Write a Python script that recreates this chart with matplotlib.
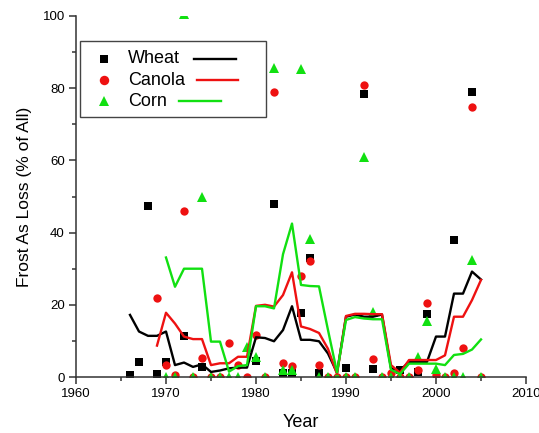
import numpy as np
import matplotlib
matplotlib.use("Agg")
import matplotlib.pyplot as plt
from matplotlib.patches import Rectangle
from matplotlib.lines import Line2D

plt.rcParams['font.family'] = ['Liberation Sans', 'DejaVu Sans']

nan = np.nan
years_wheat = list(range(1966, 2006))
wheat_pts = [0.5, 4.2, 47.4, 0.8, 4.2, nan, 11.3, nan, 2.9, nan, nan, nan, nan, nan,
             4.4, nan, 48, 1, 1, 17.6, 33, 1.2, nan, nan, 2.5, nan, 78.5, 2.3, nan, nan,
             1.9, nan, 1.3, 17.4, nan, nan, 38, nan, 79, nan]
wheat_line = [17.2, 12.6, 11.4, 11.4, 12.6, 3.3, 4.0, 2.8, 3.5, 1.4, 1.8, 2.4, 2.6, 2.6,
              11.0, 10.8, 9.9, 13.0, 19.6, 10.3, 10.3, 9.9, 6.5, 1.2, 16.7, 17.3, 16.7,
              16.7, 17.3, 2.4, 1.8, 4.2, 4.2, 4.2, 11.2, 11.2, 23.1, 23.1, 29.2, 27.0]

years_canola = list(range(1969, 2006))
canola_pts = [22, 3.3, 0.5, 46, 0, 5.2, 0, 0, 9.3, 3.3, 0, 11.6, 0, 79, 4, 3, 28.1, 32.2,
              3.2, 0, 0, 0, 0, 81, 4.9, 0, 1, 0, 0, 2, 20.6, 0.5, 0, 1.2, 7.9, 74.7, 0]
canola_line = [8.7, 17.8, 14.8, 11.2, 10.5, 10.5, 3.3, 3.8, 3.8, 5.6, 5.6, 19.7, 20.0, 19.5,
               22.7, 29.0, 14.0, 13.3, 12.2, 7.8, 0.8, 16.9, 17.5, 17.5, 17.4, 17.4, 3.3,
               1.2, 4.7, 4.7, 4.7, 4.7, 6.0, 16.7, 16.7, 21.3, 26.9]

years_corn = list(range(1970, 2006))
corn_pts = [0, 0, 100.6, 0, 50, 0, 0, 0, 0, 8.4, 5.6, 0, 85.7, 2, 2, 85.3, 38.2, 0, 0, 0,
            0, 0, 61, 18, 0, 0, 0, 0, 5.6, 15.6, 2.1, 0, 0, 0, 32.4, 0]
corn_line = [33.1, 25.0, 30.0, 30.0, 30.0, 9.8, 9.8, 1.5, 3.0, 3.3, 19.6, 19.6, 19.0, 34.0,
             42.5, 25.5, 25.2, 25.1, 13.0, 1.3, 15.8, 16.6, 16.2, 16.0, 16.0, 2.0, 0.8,
             3.7, 3.7, 3.7, 3.7, 3.3, 6.1, 6.4, 7.6, 10.4]

labels = ['Wheat', 'Canola', 'Corn']
colors = ['#000000', '#ee1111', '#11e011']
markers = ['s', 'o', '^']
msizes = [5.2, 6.0, 6.8]

fig = plt.figure(figsize=(5.39, 4.33), dpi=100)
ax = fig.add_axes([76/539, 1-377/433, 450/539, 361/433])

series = [(years_wheat, wheat_pts, wheat_line),
          (years_canola, canola_pts, canola_line),
          (years_corn, corn_pts, corn_line)]
for (yrs, pts, ln), c, m, ms in zip(series, colors, markers, msizes):
    mk, = ax.plot(yrs, pts, linestyle='none', marker=m, color=c, markersize=ms,
                  markeredgewidth=0, zorder=2)
    mk.set_clip_path(ax.patch)
for (yrs, pts, ln), c in zip(series, colors):
    ax.plot(yrs, ln, color=c, linewidth=1.7, zorder=3)

ax.set_xlim(1960, 2010)
ax.set_ylim(0, 100)
ax.set_xticks(range(1960, 2011, 10))
ax.set_xticks(range(1965, 2010, 10), minor=True)
ax.set_yticks(range(0, 101, 20))
ax.set_yticks(range(10, 100, 20), minor=True)
for s in ['top', 'right']:
    ax.spines[s].set_visible(False)
for s in ['left', 'bottom']:
    ax.spines[s].set_color('#333333')
    ax.spines[s].set_linewidth(1.1)
ax.tick_params(which='major', length=5, width=1.1, color='#333333', labelsize=9.5, pad=3)
ax.tick_params(which='minor', length=3, width=1.1, color='#333333')
ax.set_xlabel('Year', fontsize=13, labelpad=10)
ax.set_ylabel('Frost As Loss (% of All)', fontsize=12.5, labelpad=8)

# custom legend: marker, label, line
ax.add_patch(Rectangle((0.0078, 0.72), 0.4138, 0.2116, transform=ax.transAxes,
                       facecolor='white', edgecolor='#444444', linewidth=1.0, zorder=5))
rows_y = [0.881, 0.822, 0.7637]
line_x = [(0.262, 0.355), (0.268, 0.36), (0.229, 0.3215)]
for lab, c, m, ms, yy, (x0, x1) in zip(labels, colors, markers, msizes, rows_y, line_x):
    ax.add_line(Line2D([0.0616], [yy], transform=ax.transAxes, marker=m, color=c,
                       markersize=ms + 0.8, markeredgewidth=0, linestyle='none', zorder=6))
    ax.text(0.1162, yy, lab, transform=ax.transAxes, fontsize=13, va='center',
            ha='left', zorder=6)
    ax.add_line(Line2D([x0, x1], [yy, yy], transform=ax.transAxes, color=c,
                       linewidth=1.7, zorder=6))

fig.savefig('out.png', dpi=100)
